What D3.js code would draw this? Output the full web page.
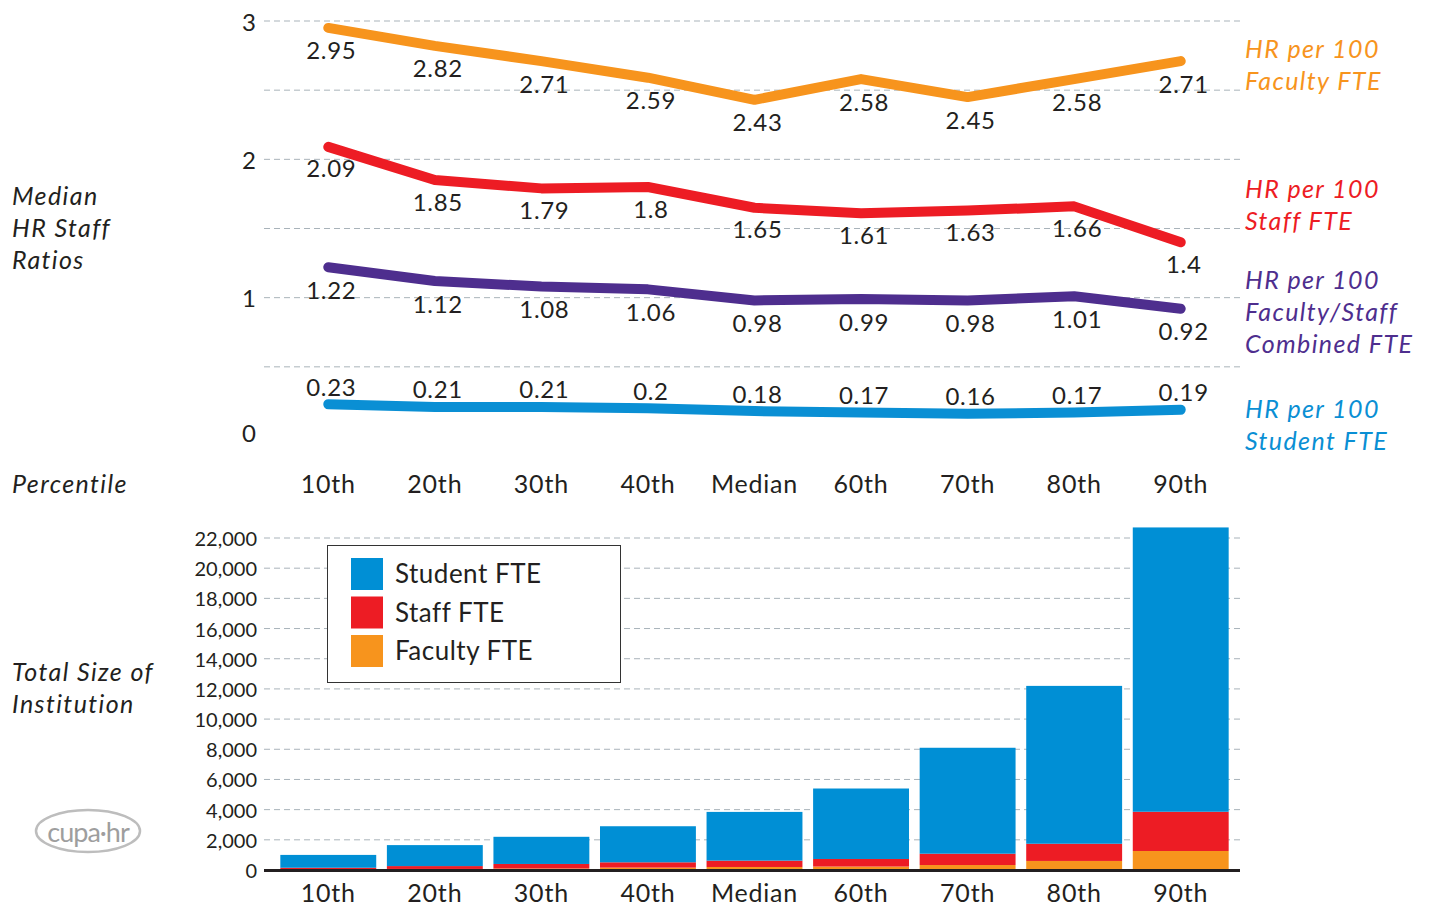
<!DOCTYPE html>
<html><head><meta charset="utf-8">
<script src="https://cdn.jsdelivr.net/npm/d3@7"></script>
<style>
html,body{margin:0;padding:0;background:#fff;}
svg{display:block;font-family:Lato,"Open Sans",sans-serif;}
</style></head>
<body>
<svg id="chart" width="1431" height="909"></svg>
<script>
const categories = ["10th","20th","30th","40th","Median","60th","70th","80th","90th"];
// Top chart: HR staff ratios
const hrFaculty  = [2.95, 2.82, 2.71, 2.59, 2.43, 2.58, 2.45, 2.58, 2.71];
const hrStaff    = [2.09, 1.85, 1.79, 1.8, 1.65, 1.61, 1.63, 1.66, 1.4];
const hrCombined = [1.22, 1.12, 1.08, 1.06, 0.98, 0.99, 0.98, 1.01, 0.92];
const hrStudent  = [0.23, 0.21, 0.21, 0.2, 0.18, 0.17, 0.16, 0.17, 0.19];
const ratioTicks = [0, 1, 2, 3];
const ratioGrid  = [0.5, 1, 1.5, 2, 2.5, 3];
// Bottom chart: institution size (stacked)
const facultyFTE = [40, 70, 100, 160, 200, 230, 330, 600, 1260];
const staffFTE   = [110, 190, 300, 350, 420, 500, 750, 1140, 2600];
const studentFTE = [850, 1390, 1800, 2390, 3230, 4670, 7020, 10460, 18840];
const sizeTicks  = [0,2000,4000,6000,8000,10000,12000,14000,16000,18000,20000,22000];

const C = {orange:"#F7941D", red:"#ED1C24", purple:"#4E2E8E", blue:"#0A8FD4", bar:"#008FD5", text:"#231F20", grid:"#A9B3BA"};

const svg = d3.select("#chart");
const x = d3.scaleBand().domain(categories).range([275, 1234]).paddingInner(0.1).paddingOuter(0.05);
const cx = c => x(c) + x.bandwidth()/2;
const gridX0 = 264, gridX1 = 1240;

// ---------- Top chart ----------
const yT = d3.scaleLinear().domain([0, 3]).range([436, 21]);
svg.append("g").selectAll("line").data(ratioGrid).join("line")
  .attr("x1", gridX0).attr("x2", gridX1)
  .attr("y1", d => yT(d)).attr("y2", d => yT(d))
  .attr("stroke", C.grid).attr("stroke-width", 1).attr("stroke-dasharray", "6,4");
svg.append("g").selectAll("text").data(ratioTicks).join("text")
  .attr("x", 256).attr("y", d => yT(d) - (d === 0 ? 4 : 0)).attr("text-anchor", "end")
  .attr("dominant-baseline", "central").attr("font-size", 24).attr("fill", C.text)
  .text(d => d);

const series = [
  {vals: hrFaculty, color: C.orange, off: 22, lbl: ["HR per 100", "Faculty FTE"], ly: 48},
  {vals: hrStaff, color: C.red, off: 21, lbl: ["HR per 100", "Staff FTE"], ly: 188},
  {vals: hrCombined, color: C.purple, off: 22, lbl: ["HR per 100", "Faculty/Staff", "Combined FTE"], ly: 279},
  {vals: hrStudent, color: C.blue, off: -18, lbl: ["HR per 100", "Student FTE"], ly: 408}
];
const line = d3.line().x((d, i) => cx(categories[i])).y(d => yT(d));
series.forEach(s => {
  svg.append("path").datum(s.vals).attr("d", line)
    .attr("fill", "none").attr("stroke", s.color).attr("stroke-width", 10)
    .attr("stroke-linecap", "round").attr("stroke-linejoin", "round");
  svg.append("g").selectAll("text").data(s.vals).join("text")
    .attr("x", (d, i) => cx(categories[i]) + 3).attr("y", d => yT(d) + s.off)
    .attr("text-anchor", "middle").attr("dominant-baseline", "central")
    .attr("font-size", 24).attr("letter-spacing", 0.7).attr("fill", C.text).text(d => d);
  svg.append("g").selectAll("text").data(s.lbl).join("text")
    .attr("x", 1245).attr("y", (d, i) => s.ly + i * 32).attr("dominant-baseline", "central")
    .attr("font-size", 25).attr("letter-spacing", 1.4).attr("font-style", "italic").attr("fill", s.color).text(d => d);
});

// category labels top
svg.append("g").selectAll("text").data(categories).join("text")
  .attr("x", d => cx(d)).attr("y", 483).attr("text-anchor", "middle").attr("dominant-baseline", "central")
  .attr("font-size", 25).attr("letter-spacing", 0.8).attr("fill", C.text).text(d => d);

// left titles
const leftTitles = [
  {lines: ["Median", "HR Staff", "Ratios"], y: 195},
  {lines: ["Percentile"], y: 483},
  {lines: ["Total Size of", "Institution"], y: 671}
];
leftTitles.forEach(t => {
  svg.append("g").selectAll("text").data(t.lines).join("text")
    .attr("x", 12).attr("y", (d, i) => t.y + i * 32).attr("dominant-baseline", "central")
    .attr("font-size", 25).attr("letter-spacing", 1.4).attr("font-style", "italic").attr("fill", C.text).text(d => d);
});

// ---------- Bottom chart ----------
const yB = d3.scaleLinear().domain([0, 22000]).range([870, 538]);
svg.append("g").selectAll("line").data(sizeTicks.filter(d => d > 0)).join("line")
  .attr("x1", gridX0).attr("x2", gridX1)
  .attr("y1", d => yB(d)).attr("y2", d => yB(d))
  .attr("stroke", C.grid).attr("stroke-width", 1).attr("stroke-dasharray", "6,4");
svg.append("g").selectAll("text").data(sizeTicks).join("text")
  .attr("x", 257).attr("y", d => yB(d)).attr("text-anchor", "end").attr("dominant-baseline", "central")
  .attr("font-size", 20).attr("fill", C.text).text(d => d3.format(",")(d));

const stackData = categories.map((c, i) => ({cat: c, faculty: facultyFTE[i], staff: staffFTE[i], student: studentFTE[i]}));
const stack = d3.stack().keys(["faculty", "staff", "student"])(stackData);
const barColors = {faculty: C.orange, staff: C.red, student: C.bar};
svg.append("g").selectAll("g").data(stack).join("g").attr("fill", d => barColors[d.key])
  .selectAll("rect").data(d => d).join("rect")
  .attr("x", d => x(d.data.cat)).attr("width", x.bandwidth())
  .attr("y", d => yB(d[1])).attr("height", d => yB(d[0]) - yB(d[1]));

svg.append("line").attr("x1", gridX0).attr("x2", gridX1).attr("y1", yB(0) + 0.5).attr("y2", yB(0) + 0.5)
  .attr("stroke", "#231F20").attr("stroke-width", 3);

svg.append("g").selectAll("text").data(categories).join("text")
  .attr("x", d => cx(d)).attr("y", 892).attr("text-anchor", "middle").attr("dominant-baseline", "central")
  .attr("font-size", 25).attr("letter-spacing", 0.8).attr("fill", C.text).text(d => d);

// legend
const legendItems = [["Student FTE", C.bar], ["Staff FTE", C.red], ["Faculty FTE", C.orange]];
svg.append("rect").attr("x", 327.5).attr("y", 545.5).attr("width", 293).attr("height", 137)
  .attr("fill", "#fff").attr("stroke", "#333").attr("stroke-width", 1);
const lg = svg.append("g").selectAll("g").data(legendItems).join("g")
  .attr("transform", (d, i) => `translate(351, ${558 + i * 38.5})`);
lg.append("rect").attr("width", 32).attr("height", 32).attr("fill", d => d[1]);
lg.append("text").attr("x", 44).attr("y", 15).attr("dominant-baseline", "central")
  .attr("font-size", 26).attr("letter-spacing", 0.5).attr("fill", C.text).text(d => d[0]);

// logo
const logo = svg.append("g").attr("transform", "translate(88, 831)");
logo.append("ellipse").attr("rx", 52).attr("ry", 21).attr("fill", "none")
  .attr("stroke", "#BDBDBD").attr("stroke-width", 2.5);
logo.append("text").attr("x", 0).attr("y", 0).attr("text-anchor", "middle").attr("dominant-baseline", "central")
  .attr("font-size", 27).attr("fill", "#9E9E9E").attr("letter-spacing", -1).text("cupa·hr");
</script>
</body></html>
